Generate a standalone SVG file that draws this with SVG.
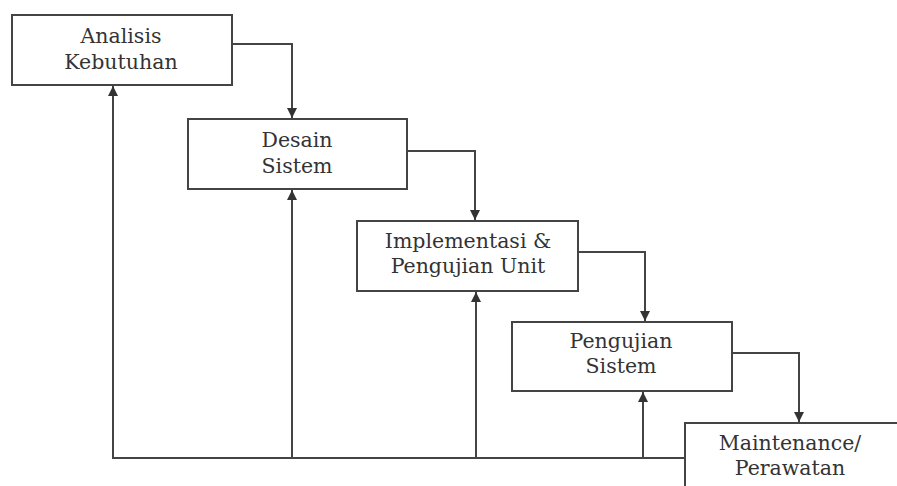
<svg xmlns="http://www.w3.org/2000/svg" width="897" height="486" viewBox="0 0 897 486">
<style>
.box{fill:#fff;stroke:#444;stroke-width:2}
.t{font-family:"DejaVu Serif","Liberation Serif",serif;font-size:20.5px;fill:#333;text-anchor:middle}
.c{fill:none;stroke:#444;stroke-width:2}
</style>
<defs>
<marker id="ah" viewBox="0 0 10 10" refX="10" refY="5" markerWidth="11" markerHeight="10" markerUnits="userSpaceOnUse" orient="auto">
<path d="M0,0 L10,5 L0,10 z" fill="#333"/>
</marker>
</defs>
<rect width="897" height="486" fill="#fff"/>
<g id="n1"><rect class="box" x="12" y="15" width="220" height="70"/><text class="t" x="121" y="43">Analisis</text><text class="t" x="121" y="69">Kebutuhan</text></g>
<g id="n2"><rect class="box" x="188" y="119" width="219" height="70"/><text class="t" x="297" y="147">Desain</text><text class="t" x="297" y="173">Sistem</text></g>
<g id="n3"><rect class="box" x="357" y="221" width="221" height="70"/><text class="t" x="468" y="248">Implementasi &amp;</text><text class="t" x="468" y="273">Pengujian Unit</text></g>
<g id="n4"><rect class="box" x="512" y="322" width="220" height="69"/><text class="t" x="621" y="348">Pengujian</text><text class="t" x="621" y="373">Sistem</text></g>
<g id="n5"><rect class="box" x="685" y="423" width="230" height="80"/><text class="t" x="790" y="450">Maintenance/</text><text class="t" x="790" y="475">Perawatan</text></g>
<g id="connectors">
<path class="c" d="M232,44 H292 V118" marker-end="url(#ah)"/>
<path class="c" d="M407,151 H475 V220" marker-end="url(#ah)"/>
<path class="c" d="M578,252 H645 V321" marker-end="url(#ah)"/>
<path class="c" d="M732,353 H799 V422" marker-end="url(#ah)"/>
<path class="c" d="M685,458 H113 V86" marker-end="url(#ah)"/>
<path class="c" d="M292,458 V190" marker-end="url(#ah)"/>
<path class="c" d="M476,458 V292" marker-end="url(#ah)"/>
<path class="c" d="M643,458 V392" marker-end="url(#ah)"/>
</g>
</svg>
